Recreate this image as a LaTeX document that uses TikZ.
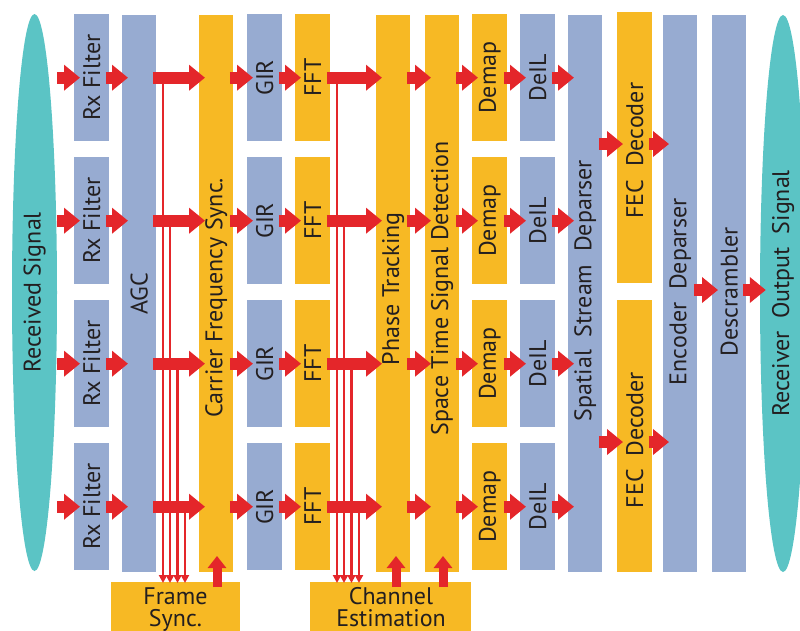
\documentclass[tikz,border=0pt]{standalone}
\usepackage{fontspec}
\setmainfont{PT Sans}
\usetikzlibrary{arrows.meta,shapes.geometric}
\definecolor{blueC}{RGB}{151,171,209}
\definecolor{orangeC}{RGB}{247,185,36}
\definecolor{tealC}{RGB}{91,196,197}
\definecolor{redC}{RGB}{228,38,42}
\definecolor{textC}{RGB}{35,31,32}
\begin{document}
\begin{tikzpicture}[x=1pt,y=-1pt,
  lbl/.style={inner sep=0pt, text=textC, font=\fontsize{24}{28}\selectfont},
  box/.style={lbl, draw=none, anchor=north west},
  rowbox/.style={box, minimum width=35pt, minimum height=127pt},
  tallbox/.style={box, minimum width=34pt, minimum height=557pt},
  blu/.style={fill=blueC},
  org/.style={fill=orangeC},
  lens/.style={ellipse, fill=tealC, inner sep=0pt, minimum width=45pt, minimum height=557pt},
  bigarr/.style={draw=redC, line width=12pt, -{Triangle[length=16pt,width=25pt]}, shorten <=-3.5pt, shorten >=-6pt},
  thinarr/.style={draw=redC, line width=2.2pt, -{Triangle[length=8pt,width=8pt]}},
  uparr/.style={draw=redC, line width=9pt, -{Triangle[length=12pt,width=18pt]}, shorten <=-5pt}
]
\useasboundingbox (0,0) rectangle (800,630);
\clip (0,0) rectangle (800,630);

% ellipses
\node[lens] (recv) at (34.5,292.5) {};
\node[lbl, rotate=90] (recvT) at (recv.center) {Received Signal};
\node[lens, minimum width=46pt] (outp) at (783,293.5) {};
\node[lbl, rotate=90] (outpT) at (outp.center) {Receiver\ \ Output\ \ Signal};

% tall boxes
\node[tallbox, blu] (agc) at (122,15) {};
\node[tallbox, org] (cfs) at (199,15) {};
\node[tallbox, org] (pt)  at (376,15) {};
\node[tallbox, org] (stsd) at (425,15) {};
\node[tallbox, blu] (ssd) at (568,15) {};
\node[tallbox, blu] (enc) at (663,15) {};
\node[tallbox, blu] (desc) at (712,15) {};
\node[box, org, minimum width=35pt, minimum height=271pt] (fecA) at (617,12) {};
\node[box, org, minimum width=35pt, minimum height=272pt] (fecB) at (617,300) {};

\node[lbl, rotate=90] (agcT) at (agc.center) {AGC};
\node[lbl, rotate=90] (cfsT) at ([yshift=-4pt]cfs.center) {Carrier\ Frequency\ Sync.};
\node[lbl, rotate=90] (ptT) at ([yshift=5pt]pt.center) {Phase Tracking};
\node[lbl, rotate=90] (stsdT) at ([yshift=5pt]stsd.center) {Space\ Time\ Signal Detection};
\node[lbl, rotate=90] (ssdT) at ([yshift=3pt]ssd.center) {Spatial\ \ Stream\ \ Deparser};
\node[lbl, rotate=90] (encT) at ([yshift=2pt]enc.center) {Encoder\ \ Deparser};
\node[lbl, rotate=90] (descT) at ([yshift=2pt]desc.center) {Descrambler};
\node[lbl, rotate=90] (fecAT) at ([yshift=-3pt]fecA.center) {FEC\ \ Decoder};
\node[lbl, rotate=90] (fecBT) at ([yshift=-4pt]fecB.center) {FEC\ \ Decoder};

% bottom boxes
\node[box, org, minimum width=129pt, minimum height=50pt] (fsync) at (111,582) {};
\node[lbl, align=center, font=\fontsize{24}{22}\selectfont, anchor=north] (fsyncT) at (175.5,587) {Frame\\Sync.};
\node[box, org, minimum width=161pt, minimum height=50pt] (chest) at (310,582) {};
\node[lbl, align=center, font=\fontsize{24}{22}\selectfont, anchor=north] (chestT) at (391,587) {Channel\\Estimation};

% row boxes
\foreach \r/\y in {1/14,2/157,3/300,4/443}{
  \node[rowbox, blu] (rx\r) at (74,\y) {\rotatebox{90}{Rx Filter}};
  \node[rowbox, blu] (gir\r) at (247,\y) {\rotatebox{90}{GIR}};
  \node[rowbox, org] (fft\r) at (295,\y) {\rotatebox{90}{FFT}};
  \node[rowbox, org] (dm\r) at (472,\y) {\rotatebox{90}{Demap}};
  \node[rowbox, blu] (dl\r) at (520,\y) {\rotatebox{90}{DeIL}};
}

% feedback line end points
\coordinate (fl1) at (163,583);
\coordinate (fl2) at (170,583);
\coordinate (fl3) at (177.5,583);
\coordinate (fl4) at (185,583);
\coordinate (cl1) at (337,583);
\coordinate (cl2) at (344,583);
\coordinate (cl3) at (351.5,583);
\coordinate (cl4) at (359,583);
\foreach \r in {1,2,3,4}{
  \draw[thinarr] (fl\r |- rx\r.east) -- (fl\r);
  \draw[thinarr] (cl\r |- fft\r.east) -- (cl\r);
}

% row arrows
\foreach \r in {1,2,3,4}{
  \draw[bigarr, shorten <=0pt] (recv.east |- rx\r.west) -- (rx\r.west);
  \draw[bigarr] (rx\r.east) -- (agc.west |- rx\r.east);
  \draw[bigarr] (agc.east |- rx\r.east) -- (cfs.west |- rx\r.east);
  \draw[bigarr] (cfs.east |- gir\r.west) -- (gir\r.west);
  \draw[bigarr] (gir\r.east) -- (fft\r.west);
  \draw[bigarr] (fft\r.east) -- (pt.west |- fft\r.east);
  \draw[bigarr] (pt.east |- fft\r.east) -- (stsd.west |- fft\r.east);
  \draw[bigarr] (stsd.east |- dm\r.west) -- (dm\r.west);
  \draw[bigarr] (dm\r.east) -- (dl\r.west);
  \draw[bigarr] (dl\r.east) -- (ssd.west |- dl\r.east);
}

\coordinate (ya) at (0,144);
\coordinate (yb) at (0,442);
\coordinate (yc) at (0,290);
\draw[bigarr] (ssd.east |- ya) -- (fecA.west |- ya);
\draw[bigarr] (fecA.east |- ya) -- (enc.west |- ya);
\draw[bigarr] (ssd.east |- yb) -- (fecB.west |- yb);
\draw[bigarr] (fecB.east |- yb) -- (enc.west |- yb);
\draw[bigarr] (enc.east |- yc) -- (desc.west |- yc);
\draw[bigarr] (desc.east |- yc) -- (outp.west |- yc);

% up arrows
\coordinate (u1) at (217,556);
\coordinate (u2) at (396,556);
\coordinate (u3) at (443,556);
\draw[uparr] (fsync.north -| u1) -- (u1);
\draw[uparr] (chest.north -| u2) -- (u2);
\draw[uparr] (chest.north -| u3) -- (u3);
\end{tikzpicture}
\end{document}
